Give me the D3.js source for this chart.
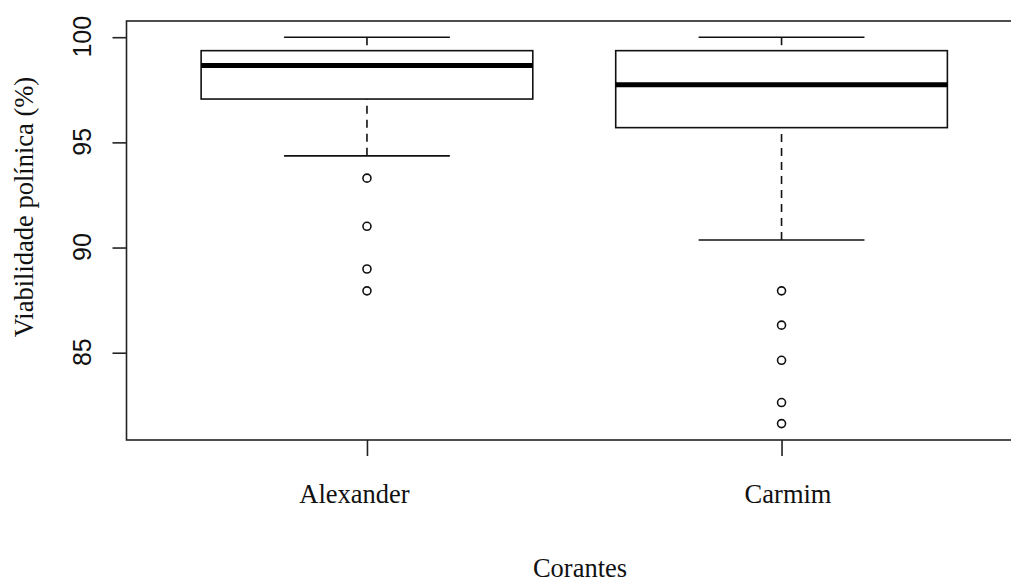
<!DOCTYPE html>
<html>
<head>
<meta charset="utf-8">
<script src="https://cdn.jsdelivr.net/npm/d3@7"></script>
<style>
  html, body { margin: 0; padding: 0; background: #fff; }
  svg { display: block; }
</style>
</head>
<body>
<svg id="chart" width="1011" height="585"></svg>
<script>
// boxplot stats
const categories = ["Alexander", "Carmim"];
const whiskerLow = [94.36, 90.36];
const q1 = [97.06, 95.70];
const median = [98.66, 97.74];
const q3 = [99.36, 99.36];
const whiskerHigh = [100, 100];
const outliers = [
  [93.3, 91.01, 88.98, 87.94],
  [87.94, 86.31, 84.64, 82.63, 81.63]
];
const yTicks = [85, 90, 95, 100];

const boxes = categories.map((c, i) => ({
  name: c, pos: i + 1,
  lo: whiskerLow[i], q1: q1[i], med: median[i], q3: q3[i], hi: whiskerHigh[i],
  out: outliers[i]
}));

const svg = d3.select("#chart");
const ink = "#111";

// R style: xlim = c(0.5, 2.5) with 4% padding
const x = d3.scaleLinear().domain([0.42, 2.58]).range([126.5, 1022]);
const y = d3.scaleLinear().domain([80.85, 100.77]).range([440, 21]);
const unit = x(2) - x(1);

// frame (right edge falls outside the picture)
svg.append("rect")
  .attr("x", x.range()[0]).attr("y", y.range()[1])
  .attr("width", x.range()[1] - x.range()[0])
  .attr("height", y.range()[0] - y.range()[1])
  .attr("fill", "none").attr("stroke", "#222").attr("stroke-width", 1.6);

// y axis
const yAxis = svg.append("g")
  .attr("transform", `translate(${x.range()[0]},0)`)
  .call(d3.axisLeft(y).tickValues(yTicks).tickSize(14).tickFormat(d3.format("d")));
yAxis.select(".domain").remove();
yAxis.selectAll("line").attr("stroke", "#222").attr("stroke-width", 1.6);
yAxis.selectAll("text")
  .attr("x", null).attr("dy", null)
  .attr("text-anchor", "middle")
  .attr("transform", "translate(-36,-1) rotate(-90)")
  .attr("font-family", "'Liberation Sans', Arial, sans-serif")
  .attr("font-size", 25).attr("fill", "#111");

// x axis
const xAxis = svg.append("g")
  .attr("transform", `translate(0,${y.range()[0]})`)
  .call(d3.axisBottom(x).tickValues(boxes.map(b => b.pos)).tickSize(16)
    .tickFormat((d, i) => categories[i]));
xAxis.select(".domain").remove();
xAxis.selectAll("line").attr("stroke", "#222").attr("stroke-width", 1.6);
xAxis.selectAll("text")
  .attr("y", 63).attr("dy", null)
  .attr("dx", (d, i) => i === 0 ? -13 : 6)
  .attr("font-family", "'Liberation Serif', 'Times New Roman', serif")
  .attr("font-size", 26.5).attr("fill", "#111");

// boxes
const g = svg.selectAll(".box").data(boxes).join("g").attr("class", "box");

// whiskers, drawn from the end toward the box like R
g.selectAll(".whisk")
  .data(d => [[d.lo, d.q1, d.pos], [d.hi, d.q3, d.pos]])
  .join("line").attr("class", "whisk")
  .attr("x1", d => x(d[2])).attr("x2", d => x(d[2]))
  .attr("y1", d => y(d[0])).attr("y2", d => y(d[1]))
  .attr("stroke", ink).attr("stroke-width", 1.6)
  .attr("stroke-dasharray", "8,6");

g.selectAll(".staple")
  .data(d => [[d.lo, d.pos], [d.hi, d.pos]])
  .join("line").attr("class", "staple")
  .attr("x1", d => x(d[1]) - unit * 0.2).attr("x2", d => x(d[1]) + unit * 0.2)
  .attr("y1", d => y(d[0])).attr("y2", d => y(d[0]))
  .attr("stroke", ink).attr("stroke-width", 1.6);

g.append("rect")
  .attr("x", d => x(d.pos) - unit * 0.4)
  .attr("width", unit * 0.8)
  .attr("y", d => y(d.q3))
  .attr("height", d => y(d.q1) - y(d.q3))
  .attr("fill", "#fff").attr("stroke", ink).attr("stroke-width", 1.6);

g.append("line")
  .attr("x1", d => x(d.pos) - unit * 0.4).attr("x2", d => x(d.pos) + unit * 0.4)
  .attr("y1", d => y(d.med)).attr("y2", d => y(d.med))
  .attr("stroke", "#000").attr("stroke-width", 5);

g.selectAll("circle")
  .data(d => d.out.map(v => [d.pos, v]))
  .join("circle")
  .attr("cx", d => x(d[0])).attr("cy", d => y(d[1]))
  .attr("r", 4)
  .attr("fill", "none").attr("stroke", ink).attr("stroke-width", 1.6);

// axis titles
svg.append("text")
  .attr("transform", "translate(33,207) rotate(-90)")
  .attr("text-anchor", "middle")
  .attr("font-family", "'Liberation Serif', 'Times New Roman', serif")
  .attr("font-size", 26.5).attr("fill", "#111")
  .text("Viabilidade polínica (%)");

svg.append("text")
  .attr("x", 580).attr("y", 577)
  .attr("text-anchor", "middle")
  .attr("font-family", "'Liberation Serif', 'Times New Roman', serif")
  .attr("font-size", 26.5).attr("fill", "#111")
  .text("Corantes");
</script>
</body>
</html>
